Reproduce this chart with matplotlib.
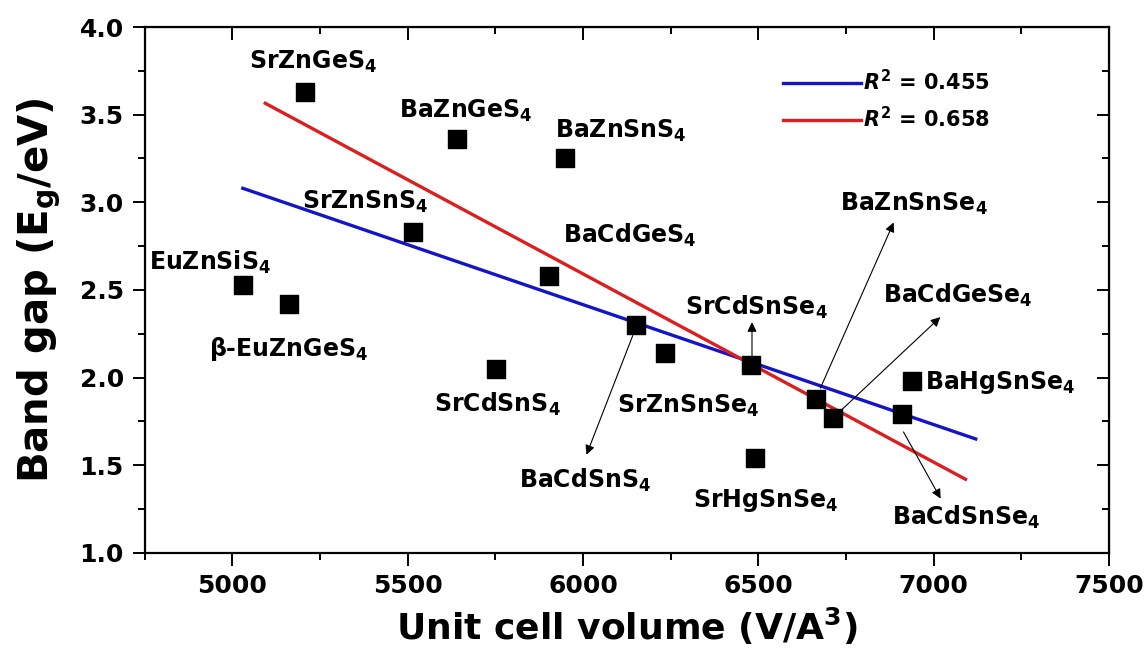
import matplotlib
matplotlib.use("Agg")
import matplotlib.pyplot as plt
from matplotlib.ticker import MultipleLocator, FormatStrFormatter

plt.rcParams["font.family"] = ["DejaVu Sans"]
plt.rcParams["font.weight"] = "bold"
plt.rcParams["mathtext.fontset"] = "custom"
plt.rcParams["mathtext.rm"] = "DejaVu Sans:bold"
plt.rcParams["mathtext.bf"] = "DejaVu Sans:bold"
plt.rcParams["mathtext.it"] = "DejaVu Sans:italic:bold"
plt.rcParams["mathtext.default"] = "regular"

# data
compounds = ["SrZnGeS$_4$", "BaZnGeS$_4$", "BaZnSnS$_4$", "SrZnSnS$_4$",
             "BaCdGeS$_4$", "EuZnSiS$_4$", "\u03b2-EuZnGeS$_4$", "SrCdSnS$_4$",
             "BaCdSnS$_4$", "SrZnSnSe$_4$", "SrCdSnSe$_4$", "SrHgSnSe$_4$",
             "BaZnSnSe$_4$", "BaCdGeSe$_4$", "BaHgSnSe$_4$", "BaCdSnSe$_4$"]
volume = [5206, 5640, 5949, 5515, 5904, 5031, 5163, 5753,
          6151, 6234, 6479, 6490, 6664, 6712, 6939, 6910]
band_gap = [3.63, 3.36, 3.25, 2.83, 2.58, 2.53, 2.42, 2.05,
            2.30, 2.14, 2.07, 1.54, 1.88, 1.77, 1.98, 1.79]

fit_blue_x = [5030, 7120]
fit_blue_y = [3.08, 1.65]
fit_red_x = [5094, 7091]
fit_red_y = [3.565, 1.42]
r2_labels = [r"$\mathit{R}^2$ = 0.455", r"$\mathit{R}^2$ = 0.658"]

# label placement (data coords) and arrows
label_pos = [(5231, 3.80), (5666, 3.52), (6109, 3.41), (5380, 3.00),
             (6134, 2.81), (4937, 2.66), (5160, 2.165), (5757, 1.85),
             (6006, 1.415), (6300, 1.84), (6494, 2.40), (6520, 1.30),
             (6943, 2.99), (7069, 2.47), (6975, 1.97), (7091, 1.20)]
arrows = {
    "BaCdSnS$_4$": ((6142, 2.24), (6010, 1.56)),
    "SrCdSnSe$_4$": ((6482, 2.10), (6482, 2.316)),
    "BaZnSnSe$_4$": ((6677, 1.94), (6886, 2.885)),
    "BaCdGeSe$_4$": ((6729, 1.80), (7019, 2.345)),
    "BaCdSnSe$_4$": ((6914, 1.69), (7020, 1.31)),
}

fig = plt.figure(figsize=(11.48, 6.59), dpi=100)
ax = fig.add_axes([0.126, 0.161, 0.840, 0.798])

ax.plot(fit_blue_x, fit_blue_y, color="#1414c8", lw=2.4, label=r2_labels[0], zorder=2)
ax.plot(fit_red_x, fit_red_y, color="#dc1e1e", lw=2.4, label=r2_labels[1], zorder=2)
ax.scatter(volume, band_gap, marker="s", s=150, color="black", zorder=3)

for name, (lx, ly) in zip(compounds, label_pos):
    ha = "left" if name.startswith("BaHg") else "center"
    ax.text(lx, ly, name, ha=ha, va="center", fontsize=17, fontweight="bold")

for name, (start, end) in arrows.items():
    ax.annotate("", xy=end, xytext=start,
                arrowprops=dict(arrowstyle="-|>", lw=0.8, color="black",
                                mutation_scale=14, shrinkA=0, shrinkB=0))

ax.set_xlim(4750, 7500)
ax.set_ylim(1.0, 4.0)
ax.xaxis.set_major_locator(MultipleLocator(500))
ax.xaxis.set_minor_locator(MultipleLocator(250))
ax.yaxis.set_major_locator(MultipleLocator(0.5))
ax.yaxis.set_minor_locator(MultipleLocator(0.25))
ax.yaxis.set_major_formatter(FormatStrFormatter("%.1f"))

for s in ax.spines.values():
    s.set_linewidth(1.6)
ax.tick_params(which="both", direction="out", top=False, right=False,
               labelsize=18, width=1.4, pad=6)
ax.tick_params(which="major", length=9)
ax.tick_params(which="minor", length=5)
for lab in ax.get_xticklabels() + ax.get_yticklabels():
    lab.set_fontweight("bold")

# mirrored ticks pointing inward on top/right
secx = ax.secondary_xaxis("top")
secx.xaxis.set_major_locator(MultipleLocator(500))
secx.xaxis.set_minor_locator(MultipleLocator(250))
secx.tick_params(which="both", direction="in", labeltop=False, width=1.4)
secx.tick_params(which="major", length=9)
secx.tick_params(which="minor", length=5)
secy = ax.secondary_yaxis("right")
secy.yaxis.set_major_locator(MultipleLocator(0.5))
secy.yaxis.set_minor_locator(MultipleLocator(0.25))
secy.tick_params(which="both", direction="in", labelright=False, width=1.4)
secy.tick_params(which="major", length=9)
secy.tick_params(which="minor", length=5)

ax.set_xlabel("Unit cell volume (V/A$^3$)", fontsize=26, fontweight="bold", labelpad=6)
ax.set_ylabel("Band gap (E$_g$/eV)", fontsize=29, fontweight="bold", labelpad=12)

ax.legend(loc="upper left", bbox_to_anchor=(0.643, 0.955), frameon=False,
          fontsize=15, handlelength=3.7, handletextpad=0.1, labelspacing=0.55)

fig.savefig("out.png", dpi=100)
